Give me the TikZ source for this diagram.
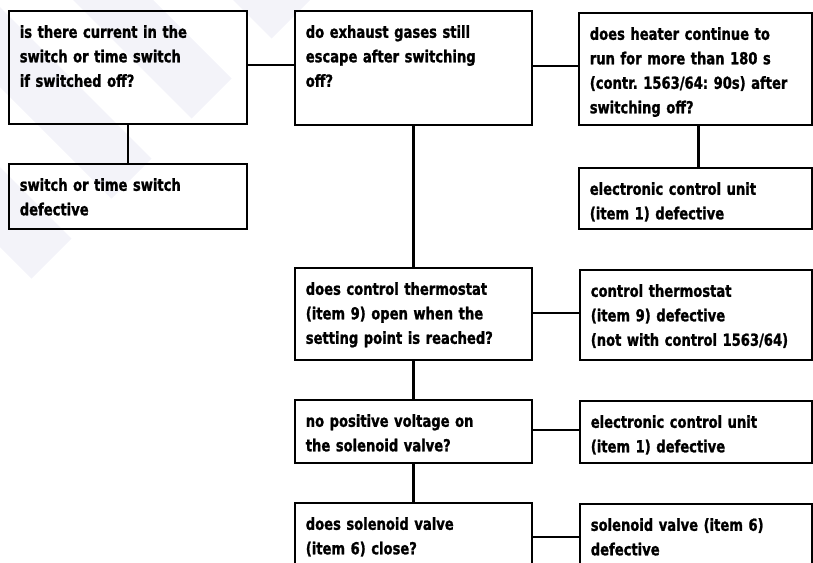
\documentclass[tikz,border=0pt]{standalone}
\usepackage{fontspec}
\usetikzlibrary{positioning}

\newfontfamily\boxfont[FakeStretch=0.79, WordSpace=0.8,
    BoldFeatures={FakeBold=1.2}]{DejaVu Sans}
\definecolor{markblue}{RGB}{243,243,249}

\tikzset{
    box/.style={draw, line width=1.6pt, anchor=north west, align=left,
        inner xsep=11pt, inner ysep=14pt, text height=13pt,
        font=\boxfont\bfseries\fontsize{16.6}{24.5}\selectfont\frenchspacing},
    link/.style={line width=2.6pt}
}

\begin{document}
\begin{tikzpicture}[x=1pt, y=-1pt]

    \useasboundingbox (0,0) rectangle (813,562);
    \clip (0,0) rectangle (813,562);

    % faint stripes in the background
    \foreach \a in {233,73,-87,-247}
        \fill[markblue] (\a-300,-300) -- ({(310+\a)/2},{(310-\a)/2})
            -- ({(390+\a)/2},{(230-\a)/2}) -- (\a-220,-300) -- cycle;

    % --- left column ---
    \node[box, text width=216pt, text depth=72pt] (current) at (8,10)
        {is there current in the\\switch or time switch\\if switched off?};
    \node[box, text width=216pt, text depth=24pt] (switchdef) at (8,163)
        {switch or time switch\\defective};

    % --- middle column ---
    \node[box, text width=215pt, text depth=73pt] (exhaust) at (294,10)
        {do exhaust gases still\\escape after switching\\off?};
    \node[box, text width=215pt, text depth=51pt] (thermo) at (294,267)
        {does control thermostat\\(item 9) open when the\\setting point is reached?};
    \node[box, text width=215pt, text depth=22pt] (voltage) at (294,399)
        {no positive voltage on\\the solenoid valve?};
    \node[box, text width=215pt, text depth=27pt] (valve) at (294,502)
        {does solenoid valve\\(item 6) close?};

    % --- right column ---
    \node[box, text width=211pt, text depth=71pt] (heater) at (578,12)
        {does heater continue to\\run for more than 180 s\\(contr. 1563/64: 90s) after\\switching off?};
    \node[box, text width=211pt, text depth=20pt] (ecuone) at (578,167)
        {electronic control unit\\(item 1) defective};
    \node[box, text width=210pt, text depth=49pt] (thermodef) at (579,269)
        {control thermostat\\(item 9) defective\\(not with control 1563/64)};
    \node[box, text width=210pt, text depth=21pt] (ecutwo) at (579,400)
        {electronic control unit\\(item 1) defective};
    \node[box, text width=210pt, text depth=25pt] (valvedef) at (579,503)
        {solenoid valve (item 6)\\defective};

    % --- connectors ---
    \draw[link] ([yshift=2.5pt]current.east) -- ([yshift=2.5pt]current.east -| exhaust.west);
    \draw[link] ([yshift=2pt]exhaust.east) -- ([yshift=2pt]exhaust.east -| heater.west);
    \draw[link] (current.south) -- (switchdef.north);
    \draw[link] ([xshift=3pt]heater.south) -- ([xshift=3pt]ecuone.north);
    \draw[link] (exhaust.south) -- (thermo.north);
    \draw[link] (thermo.south) -- (voltage.north);
    \draw[link] (voltage.south) -- (valve.north);
    \draw[link] ([yshift=1pt]thermo.east) -- ([yshift=1pt]thermo.east -| thermodef.west);
    \draw[link] ([yshift=1.5pt]voltage.east) -- ([yshift=1.5pt]voltage.east -| ecutwo.west);
    \draw[link] (valve.east) -- (valvedef.west);

\end{tikzpicture}
\end{document}
